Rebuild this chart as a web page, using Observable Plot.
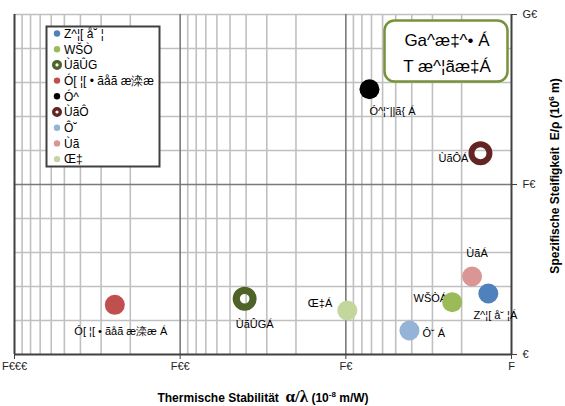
<!DOCTYPE html>
<html>
<head>
<meta charset="utf-8">
<script src="https://cdn.jsdelivr.net/npm/d3@7"></script>
<script src="https://cdn.jsdelivr.net/npm/@observablehq/plot@0.6"></script>
<style>
  html, body { margin: 0; padding: 0; background: white; }
  #chart { width: 565px; height: 406px; }
</style>
</head>
<body>
<div id="chart"></div>
<script>
// ---- data ----
const names = ["Z^¦[ å˘ ¦", "WŠÒ", "ÙãÛG", "Ó[ ¦[ • ãåã æ滦æ", "Ó^", "ÙãÔ", "Ô˘", "Ùã", "Œ‡"];
const pointLabels = ["Z^¦[ å˘ ¦Á", "WŠÒÁ", "ÙãÛGÁ", "Ó[ ¦[ • ãåã æ滦æ Á", "Ó^¦˘||ã{ Á", "ÙãÔÁ", "Ô˘ Á", "ÙãÁ", "Œ‡Á"];
const stability = [1.38, 2.28, 40.8, 248, 7.2, 1.54, 4.13, 1.73, 9.8];   // α/λ (10^-8 m/W)
const stiffness = [3.59, 3.08, 3.28, 2.92, 15.6, 11.84, 1.41, 4.59, 2.59]; // E/ρ (10^6 m)
const markerKind = ["dot", "dot", "ring", "dot", "dot", "ring", "dot", "dot", "dot"];
const colors = ["#4f81bd", "#9bbb59", "#4f6228", "#c0504d", "#000000", "#632523", "#95b3d7", "#d99694", "#c3d69b"];
const xTicks = [1000, 100, 10, 1];
const yTicks = [0, 10, 20];
const xMinor = [900,800,700,600,500,400,300,200, 90,80,70,60,50,40,30,20, 9,8,7,6,5,4,3,2];
const yMinor = [2, 4, 6, 8, 12, 14, 16, 18, 20];
const boxLines = ["Ga^æ‡^• Á", "T æ^¦ãæ‡Á"];
const digitGlyph = {"0": "€", "1": "F", "2": "G"};

// ---- label placement (style) ----
const labelPlace = [
  {anchor: "middle", dx: 7, dy: 22},
  {anchor: "end", dx: -5, dy: -4},
  {anchor: "middle", dx: 10, dy: 26},
  {anchor: "middle", dx: 6, dy: 27},
  {anchor: "middle", dx: 23, dy: 22},
  {anchor: "end", dx: -12, dy: 5},
  {anchor: "start", dx: 13, dy: 3},
  {anchor: "middle", dx: 5, dy: -23},
  {anchor: "end", dx: -15, dy: -7}
];

const fmt = d => String(d).replace(/\d/g, c => digitGlyph[c] ?? c);

const data = names.map((n, i) => ({
  name: n, label: pointLabels[i], x: stability[i], y: stiffness[i],
  kind: markerKind[i], color: colors[i], place: labelPlace[i]
}));

const textMarks = ["start", "middle", "end"].flatMap(a =>
  data.filter(d => d.place.anchor === a).map(d =>
    Plot.text([d], {x: "x", y: "y", text: "label", textAnchor: a,
      dx: d.place.dx, dy: d.place.dy, fill: "#000", fontSize: 11})
  )
);

const chart = Plot.plot({
  width: 565,
  height: 406,
  marginLeft: 14,
  marginRight: 54,
  marginTop: 14,
  marginBottom: 52,
  style: {fontFamily: "'Liberation Sans', Arial, sans-serif", fontSize: "11px", color: "#404040", background: "white"},
  x: {type: "log", domain: [1000, 1]},
  y: {domain: [0, 20]},
  marks: [
    Plot.ruleX(xMinor, {stroke: "#c0c0c0", strokeWidth: 1.6}),
    Plot.ruleY(yMinor, {stroke: "#c0c0c0", strokeWidth: 1.6}),
    Plot.ruleX([100, 10], {stroke: "#7a7a7a", strokeWidth: 1.6}),
    Plot.ruleY([10], {stroke: "#7a7a7a", strokeWidth: 1.6}),
    Plot.ruleX([1000, 1], {stroke: "#404040", strokeWidth: 2}),
    Plot.ruleY([0], {stroke: "#404040", strokeWidth: 2}),
    Plot.axisX({ticks: xTicks, tickFormat: fmt, tickSize: 5, tickPadding: 3, label: null, fontSize: 11, fill: "#222"}),
    Plot.axisY({anchor: "right", ticks: yTicks, tickFormat: fmt, tickSize: 5, tickPadding: 6, label: null, fontSize: 11, fill: "#222"}),
    ...textMarks,
    Plot.dot(data.filter(d => d.kind === "dot"), {x: "x", y: "y", r: 10, fill: "color", stroke: "none"}),
    Plot.dot(data.filter(d => d.kind === "ring" && d.color === "#4f6228"), {x: "x", y: "y", r: 8.4, fill: "none", stroke: "color", strokeWidth: 7.2}),
    Plot.dot(data.filter(d => d.kind === "ring" && d.color !== "#4f6228"), {x: "x", y: "y", r: 9, fill: "none", stroke: "color", strokeWidth: 6})
  ]
});

document.getElementById("chart").appendChild(chart);

// ---- overlays: legend, text box, axis titles ----
const svg = d3.select(chart);
const font = "'Liberation Sans', Arial, sans-serif";

const lg = svg.append("g").attr("text-anchor", "start");
lg.append("rect").attr("x", 46.5).attr("y", 26.5).attr("width", 113).attr("height", 140)
  .attr("fill", "white").attr("stroke", "#404040").attr("stroke-width", 2);
names.forEach((n, i) => {
  const cy = 33.5 + i * 15.7;
  if (markerKind[i] === "ring") {
    lg.append("circle").attr("cx", 57).attr("cy", cy).attr("r", 3.3)
      .attr("fill", "none").attr("stroke", colors[i]).attr("stroke-width", 3.4);
  } else {
    lg.append("circle").attr("cx", 57).attr("cy", cy).attr("r", 3.2).attr("fill", colors[i]);
  }
  lg.append("text").attr("x", 64).attr("y", cy).attr("dy", "0.36em").attr("text-anchor", "start")
    .attr("font-family", font).attr("font-size", 12).attr("fill", "#000").text(n);
});

const tb = svg.append("g");
tb.append("rect").attr("x", 384.5).attr("y", 20.5).attr("width", 123).attr("height", 61).attr("rx", 10)
  .attr("fill", "white").attr("stroke", "#77933c").attr("stroke-width", 2.5);
boxLines.forEach((t, i) => {
  tb.append("text").attr("x", 447).attr("y", 40 + i * 26).attr("dy", "0.36em")
    .attr("text-anchor", "middle").attr("font-family", font).attr("font-size", 17).attr("fill", "#000").text(t);
});

const xt = svg.append("text").attr("x", 263).attr("y", 402).attr("text-anchor", "middle")
  .attr("font-family", font).attr("font-size", 12).attr("font-weight", "bold").attr("fill", "#000");
xt.append("tspan").text("Thermische Stabilität  ");
xt.append("tspan").attr("font-family", "'Liberation Serif', serif").attr("font-size", 17).text("α/λ");
xt.append("tspan").text(" (10");
xt.append("tspan").attr("font-size", 8).attr("dy", -5).text("-8");
xt.append("tspan").attr("dy", 5).text(" m/W)");

const yt = svg.append("text").attr("transform", "translate(559,176) rotate(-90)").attr("text-anchor", "middle")
  .attr("font-family", font).attr("font-size", 12).attr("font-weight", "bold").attr("fill", "#000");
yt.append("tspan").text("Spezifische Steifigkeit  E/ρ (10");
yt.append("tspan").attr("font-size", 8).attr("dy", -5).text("6");
yt.append("tspan").attr("dy", 5).text(" m)");
</script>
</body>
</html>
